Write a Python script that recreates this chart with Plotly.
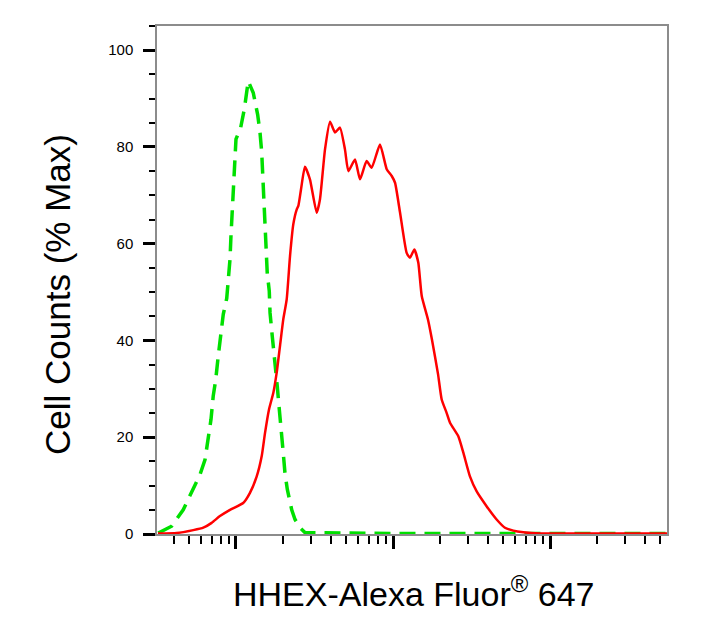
import plotly.graph_objects as go

# log10 fluorescence intensity and % of max counts
stained_log = [1.503, 1.622, 1.728, 1.792, 1.845, 1.898, 1.962, 2.046, 2.089, 2.132,
               2.164, 2.185, 2.210, 2.238, 2.259, 2.280, 2.301, 2.323, 2.344, 2.365,
               2.387, 2.397, 2.414, 2.439, 2.471, 2.514, 2.535, 2.567, 2.599, 2.631,
               2.662, 2.694, 2.716, 2.758, 2.790, 2.832, 2.864, 2.917, 2.960, 2.992,
               3.013, 3.045, 3.087, 3.108, 3.136, 3.161, 3.183, 3.223, 3.248, 3.287,
               3.310, 3.342, 3.363, 3.416, 3.448, 3.490, 3.533, 3.597, 3.660, 3.713,
               3.766, 3.830, 3.936, 4.200, 4.500, 4.745]
stained_pct = [0.1, 0.2, 0.8, 1.3, 2.3, 3.7, 5.0, 6.4, 8.5, 11.9,
               16.1, 20.9, 25.7, 29.2, 33.3, 38.8, 44.3, 48.5, 57.4, 64.0,
               67.1, 67.8, 71.2, 75.9, 73.3, 66.4, 69.2, 79.5, 85.2, 83.0,
               84.0, 79.5, 75.0, 77.4, 73.3, 77.1, 75.7, 80.5, 75.4, 74.0,
               72.6, 66.4, 58.1, 57.1, 58.8, 56.1, 49.2, 44.3, 40.2, 33.0,
               27.8, 25.0, 23.0, 20.2, 16.8, 11.9, 8.8, 5.7, 3.0, 1.3,
               0.7, 0.35, 0.1, 0.1, 0.1, 0.1]

control_log = [1.505, 1.590, 1.664, 1.718, 1.771, 1.803, 1.830, 1.841, 1.855, 1.871,
               1.887, 1.898, 1.919, 1.941, 1.955, 1.962, 1.968, 1.973, 1.979, 1.983,
               1.994, 2.000, 2.030, 2.053, 2.078, 2.110, 2.138, 2.153, 2.164, 2.170,
               2.178, 2.180, 2.187, 2.191, 2.199, 2.212, 2.217, 2.231, 2.248, 2.263,
               2.276, 2.287, 2.301, 2.312, 2.327, 2.355, 2.376, 2.408, 2.439, 3.000,
               4.000, 4.745]
control_pct = [0.2, 1.6, 5.0, 8.5, 12.3, 15.4, 20.6, 23.7, 28.5, 31.9,
               36.8, 39.5, 45.4, 48.7, 53.3, 56.8, 61.6, 65.0, 69.8, 73.3,
               78.1, 81.6, 84.0, 87.8, 93.6, 91.2, 86.7, 83.0, 78.8, 75.0,
               70.2, 66.7, 62.3, 58.5, 54.0, 50.2, 45.7, 40.9, 36.1, 30.5,
               25.7, 20.9, 16.8, 12.6, 9.2, 5.0, 3.0, 1.3, 0.3, 0.1,
               0.1, 0.1]

y_ticks = [0, 20, 40, 60, 80, 100]
x_major = [1e2, 1e3, 1e4]
x_minor = [k * 10 ** n for n in range(1, 5) for k in range(2, 10)]

fig = go.Figure()
fig.add_trace(go.Scatter(
    x=[10 ** v for v in control_log], y=control_pct, mode="lines",
    line=dict(color="#00e000", width=3.5, dash="16px,9px"),
    showlegend=False))
fig.add_trace(go.Scatter(
    x=[10 ** v for v in stained_log], y=stained_pct, mode="lines",
    line=dict(color="#ff0000", width=2.5, shape="spline", smoothing=0.5),
    showlegend=False))

# the page adds an 8px body margin, so the figure is offset by 8px
fig.update_layout(
    width=699, height=621,
    margin=dict(l=149, r=40, t=18, b=95),
    paper_bgcolor="white", plot_bgcolor="white",
    font=dict(family="Liberation Sans, Arial, sans-serif", color="black"),
    xaxis=dict(
        type="log", range=[1.497, 4.745],
        showgrid=False, zeroline=False,
        showline=True, linecolor="#8c8c8c", linewidth=1.5, mirror=True,
        tickmode="array", tickvals=x_major, showticklabels=False,
        ticks="outside", ticklen=13, tickwidth=3, tickcolor="black",
        minor=dict(tickmode="array", tickvals=x_minor, ticks="outside",
                   ticklen=8, tickwidth=1.5, tickcolor="black", showgrid=False),
    ),
    yaxis=dict(
        range=[0, 105],
        showgrid=False, zeroline=False,
        showline=True, linecolor="#8c8c8c", linewidth=1.5, mirror=True,
        tickmode="array", tickvals=y_ticks, ticktext=[str(v) for v in y_ticks],
        ticks="outside", ticklen=12, tickwidth=3, tickcolor="black",
        tickfont=dict(size=15, color="black"), ticklabelstandoff=7,
        minor=dict(dtick=5, ticks="outside", ticklen=6, tickwidth=1.5,
                   tickcolor="black", showgrid=False),
    ),
    annotations=[
        dict(text="HHEX-Alexa Fluor<sup>®</sup> 647", xref="paper", yref="paper",
             x=(413 - 157) / 510, y=-(591 - 534) / 508, xanchor="center", yanchor="middle",
             showarrow=False, font=dict(size=34, color="black")),
        dict(text="Cell Counts (% Max)", xref="paper", yref="paper",
             x=-(157 - 57) / 510, y=(534 - 295) / 508, xanchor="center", yanchor="middle",
             textangle=-90, showarrow=False, font=dict(size=35, color="black")),
    ],
)

fig.write_html("out.html")
